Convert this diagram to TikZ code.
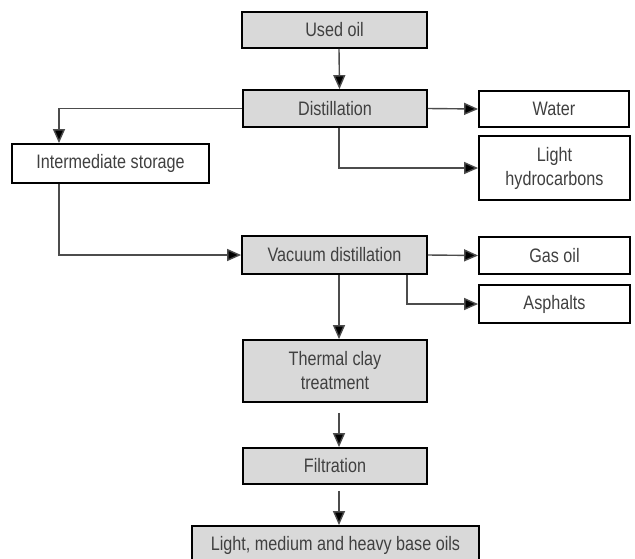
\documentclass[tikz,border=0pt]{standalone}
\usepackage{fontspec}
\setmainfont{Liberation Sans}[FakeStretch=0.83]
\usetikzlibrary{arrows.meta}
\begin{document}
\begin{tikzpicture}[x=1pt,y=-1pt,
  box/.style={draw=black,line width=1.8pt,fill=white,minimum width=#1,inner sep=0pt,align=center,font=\fontsize{19.5}{24}\selectfont,text=black!75},
  gbox/.style={box=#1,fill=black!15},
  arr/.style={draw=black!70,line width=1.4pt,-{Triangle[length=14pt,width=12pt,fill=black]}}]
\useasboundingbox (0,0) rectangle (635,558);
\node[gbox=185pt,minimum height=36pt] (used) at (334.5,30) {Used oil};
\node[gbox=184pt,minimum height=37pt] (dist) at (335,108.5) {Distillation};
\node[box=150pt,minimum height=36pt] (water) at (554,109) {Water};
\node[box=151pt,minimum height=64pt] (lhc) at (554.5,168) {Light\\hydrocarbons};
\node[box=197pt,minimum height=39pt] (stor) at (110.5,163.5) {Intermediate storage};
\node[gbox=185pt,minimum height=38pt] (vac) at (334.5,255) {Vacuum distillation};
\node[box=151pt,minimum height=37pt] (gas) at (554.5,255.5) {Gas oil};
\node[box=151pt,minimum height=38pt] (asph) at (554.5,304) {Asphalts};
\node[gbox=184pt,minimum height=62pt] (therm) at (335,371) {Thermal clay\\treatment};
\node[gbox=184pt,minimum height=36pt] (filt) at (335,466) {Filtration};
\node[gbox=287pt,minimum height=38pt] (final) at (335.5,545) {Light, medium and heavy base oils};
\draw[arr] ([xshift=4.5pt]used.south) -- ([xshift=4.5pt]dist.north);
\draw[arr] (dist.west) -| ([xshift=-51.5pt]stor.north);
\draw[arr] (dist.east) -- (water.west);
\draw[arr] ([xshift=4pt]dist.south) |- (lhc.west);
\draw[arr] ([xshift=-51.5pt]stor.south) |- (vac.west);
\draw[arr] (vac.east) -- (gas.west);
\draw[arr] ([xshift=72.5pt]vac.south) |- (asph.west);
\draw[arr] ([xshift=4.5pt]vac.south) -- ([xshift=4pt]therm.north);
\draw[arr,shorten <=10pt] ([xshift=4pt]therm.south) -- ([xshift=4pt]filt.north);
\draw[arr,shorten <=6pt] ([xshift=4pt]filt.south) -- ([xshift=3.5pt]final.north);
\end{tikzpicture}
\end{document}
